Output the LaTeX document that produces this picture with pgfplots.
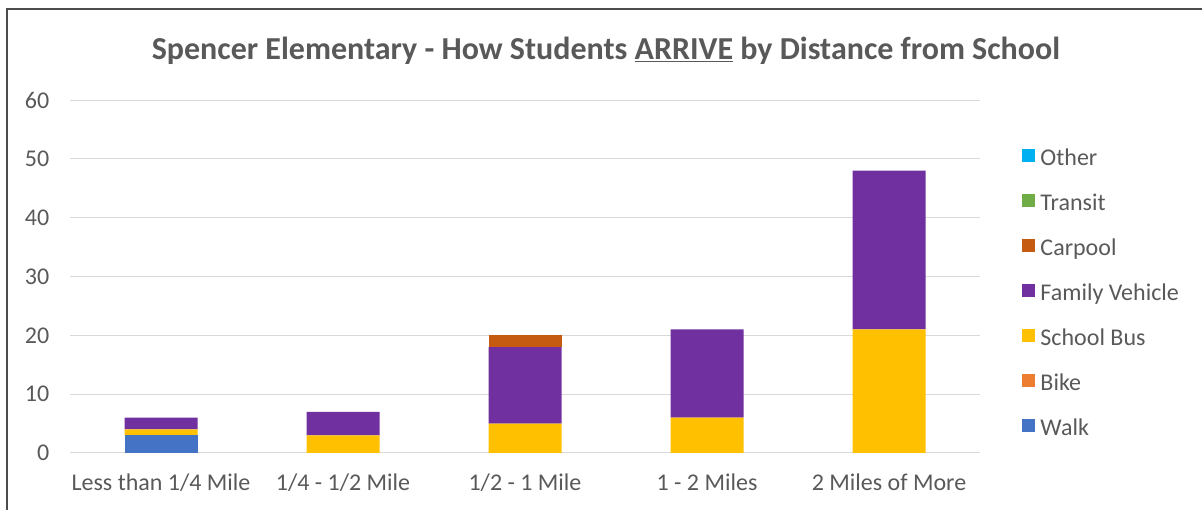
\documentclass[border=0pt]{standalone}
\usepackage{pgfplots}
\pgfplotsset{compat=1.18}
\usepackage{fontspec}
\setmainfont{Carlito}
\definecolor{txt}{HTML}{595959}
\definecolor{gridc}{HTML}{D9D9D9}
\definecolor{cwalk}{HTML}{4472C4}
\definecolor{cbike}{HTML}{ED7D31}
\definecolor{cbus}{HTML}{FFC000}
\definecolor{cfam}{HTML}{7030A0}
\definecolor{ccar}{HTML}{C55A11}
\definecolor{ctra}{HTML}{70AD47}
\definecolor{coth}{HTML}{00B0F0}
\begin{document}
\begin{tikzpicture}
\begin{axis}[
  at={(52.5pt,42.75pt)}, anchor=south west,
  scale only axis, width=682.5pt, height=264.75pt,
  ymin=0, ymax=60, ytick={0,10,...,60},
  xmin=-0.5, xmax=4.5, xtick={0,...,4},
  xticklabels={Less than 1/4 Mile, 1/4 - 1/2 Mile, 1/2 - 1 Mile, 1 - 2 Miles, 2 Miles of More},
  ybar stacked, bar width=54.75pt,
  axis line style={draw=none}, major tick length=0pt,
  ymajorgrids, grid style={color=gridc, line width=0.75pt},
  tick label style={font=\fontsize{18}{21}\selectfont, text=txt},
  /pgf/number format/assume math mode=true,
  yticklabel style={xshift=-12pt},
  xticklabel style={yshift=-12pt},
  reverse legend,
  legend style={draw=none, fill=none, at={(1.046,0.861)}, anchor=north west,
    inner sep=0pt, row sep=18.5pt, font=\fontsize{18}{21}\selectfont, text=txt,
    nodes={inner xsep=4pt, inner ysep=0pt, text height=10pt, text depth=3pt}},
  legend cell align=left,
  legend image code/.code={\fill[#1] (0pt,-1pt) rectangle (9.75pt,8.75pt);},
]
\addplot[fill=cwalk, draw=none] coordinates {(0,3) (1,0) (2,0) (3,0) (4,0)};
\addplot[fill=cbike, draw=none] coordinates {(0,0) (1,0) (2,0) (3,0) (4,0)};
\addplot[fill=cbus, draw=none] coordinates {(0,1) (1,3) (2,5) (3,6) (4,21)};
\addplot[fill=cfam, draw=none] coordinates {(0,2) (1,4) (2,13) (3,15) (4,27)};
\addplot[fill=ccar, draw=none] coordinates {(0,0) (1,0) (2,2) (3,0) (4,0)};
\addplot[fill=ctra, draw=none] coordinates {(0,0) (1,0) (2,0) (3,0) (4,0)};
\addplot[fill=coth, draw=none] coordinates {(0,0) (1,0) (2,0) (3,0) (4,0)};
\legend{Walk, Bike, School Bus, Family Vehicle, Carpool, Transit, Other}
\end{axis}
\node[font=\fontsize{24}{29}\selectfont\bfseries, text=txt] at (454.5pt,344.5pt)
  {Spencer Elementary - How Students \underline{ARRIVE} by Distance from School};
\draw[line width=1.5pt, color=black!70] (5.25pt,0pt) -- (5.25pt,375.75pt) -- (901.5pt,375.75pt);
\pgfresetboundingbox
\path (0pt,0pt) rectangle (901.5pt,382.5pt);
\end{tikzpicture}
\end{document}
